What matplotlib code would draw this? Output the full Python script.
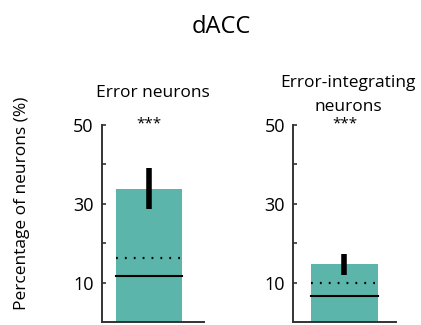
import matplotlib
matplotlib.use('Agg')
from matplotlib import pyplot as plt

plt.rcParams['font.family'] = ['Open Sans', 'DejaVu Sans']

# percentage of significant neurons, one bar per group
titles = ['Error neurons', 'Error-integrating\nneurons']
observed = [33.8, 14.8]
err_low = [28.6, 12.1]
err_high = [39.0, 17.3]
chance = [11.7, 6.6]       # solid line
chance_hi = [16.2, 10.1]   # dotted line
stars = ['***', '***']
yticks = [10, 20, 30, 40, 50]
yticklabels = ['10', '', '30', '', '50']

teal = '#5bb5aa'
axis_col = '#333333'

fig = plt.figure(figsize=(4.21, 3.25), dpi=100)
fig.text(0.525, 0.898, 'dACC', ha='center', va='baseline', fontsize=17)
fig.text(0.052, 0.375, 'Percentage of neurons (%)', rotation=90,
         ha='center', va='center', fontsize=12.5)

lefts = [0.2423, 0.6967]
centers = [0.46, 0.50]
title_x = [0.363, 0.827]
for i in range(2):
    ax = fig.add_axes([lefts[i], 0.0077, 0.243, 0.6086])
    ax.bar(centers[i], observed[i], width=0.65, color=teal, zorder=1)
    ax.plot([centers[i], centers[i]], [err_low[i], err_high[i]],
            color='black', lw=4, solid_capstyle='butt', zorder=3)
    x0 = centers[i] - 0.325
    x1 = centers[i] + 0.325
    ax.plot([x0, x1], [chance[i], chance[i]], color='black', lw=1.5, zorder=2)
    ax.plot([x0, x1], [chance_hi[i], chance_hi[i]], color='black', lw=1.6,
            linestyle=(0, (0.8, 3.2)), zorder=2)
    ax.text(centers[i], 50.3, stars[i], ha='center', va='center', fontsize=11)
    ax.set_xlim(0, 1)
    ax.set_ylim(0, 50)
    ax.set_yticks(yticks)
    ax.set_yticklabels(yticklabels)
    ax.set_xticks([])
    ax.spines['top'].set_visible(False)
    ax.spines['right'].set_visible(False)
    for s in ['left', 'bottom']:
        ax.spines[s].set_color(axis_col)
        ax.spines[s].set_linewidth(1.4)
    ax.tick_params(axis='y', direction='in', length=3, width=1.2,
                   color=axis_col, labelsize=13, pad=6)

    # group title, one line at a time from the bottom up
    lines = titles[i].split('\n')
    base = 0.7006 if len(lines) == 1 else 0.6575
    for k, line in enumerate(reversed(lines)):
        fig.text(title_x[i], base + k * 0.075, line, ha='center',
                 va='baseline', fontsize=12.5)

fig.savefig('out.png', dpi=100)
